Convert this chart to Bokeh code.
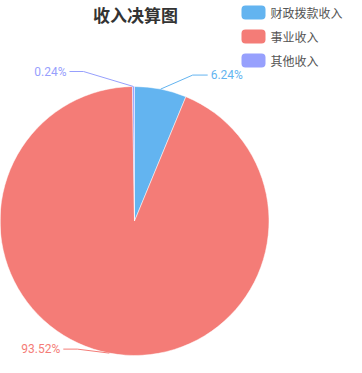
import math
from bokeh.plotting import figure
from bokeh.models import Range1d
from bokeh.core.properties import value
from bokeh.embed import file_html
from bokeh.resources import INLINE

# ---- data ----
title_text = "收入决算图"
categories = ["财政拨款收入", "事业收入", "其他收入"]
percents = [6.24, 93.52, 0.24]
colors = ["#63b4f0", "#f47c77", "#97a0fd"]

# ---- layout (figure pixel coordinates, y downward) ----
W, H = 346, 357
REF_H = 373
cx, cy, R = 134.0, 220.5, 134.5

def Y(py):
    return REF_H - py

p = figure(width=W, height=H, output_backend="svg", toolbar_location=None,
           x_range=Range1d(0, W), y_range=Range1d(REF_H - H, REF_H),
           min_border=0)
p.axis.visible = False
p.grid.visible = False
p.outline_line_color = None
p.background_fill_color = "white"
p.border_fill_color = "white"

# ---- pie ----
total = sum(percents)
start = math.pi / 2
starts, ends, mids = [], [], []
for v in percents:
    sweep = 2 * math.pi * v / total
    starts.append(start)
    ends.append(start - sweep)
    mids.append(start - sweep / 2)
    start -= sweep

p.wedge(x=[cx] * len(percents), y=[Y(cy)] * len(percents), radius=R,
        start_angle=starts, end_angle=ends, direction="clock",
        fill_color=colors, line_color="white", line_width=0.5)

# ---- labels with leader lines ----
elbow = [(32, -14), (-32, -4), (-50, -15)]
run = [15, -14, -14]
for i, v in enumerate(percents):
    ex = cx + R * math.cos(mids[i])
    ey = cy - R * math.sin(mids[i])
    bx, by = ex + elbow[i][0], ey + elbow[i][1]
    tx = bx + run[i]
    p.line(x=[ex, bx, tx], y=[Y(ey), Y(by), Y(by)], line_color=colors[i], line_width=1)
    align = "left" if run[i] > 0 else "right"
    off = 3 if run[i] > 0 else -3
    p.text(x=[tx + off], y=[Y(by)], text=["%.2f%%" % v], text_align=align,
           text_baseline="middle", text_color=colors[i], text_font_size="12px",
           text_font=value("Roboto"))

# ---- title ----
p.text(x=[135], y=[Y(14)], text=[title_text], text_align="center",
       text_baseline="middle", text_font=value("Noto Sans CJK SC"),
       text_font_style="bold", text_font_size="17px", text_color="#333333")

# ---- legend ----
lx, ly0, gap = 241, 5, 24
for i, c in enumerate(categories):
    top = ly0 + i * gap
    p.quad(left=[lx], right=[lx + 24], top=[Y(top)], bottom=[Y(top + 14)],
           fill_color=colors[i], line_color=None, border_radius=4)
    p.text(x=[lx + 29], y=[Y(top + 7)], text=[c], text_align="left",
           text_baseline="middle", text_font=value("Noto Sans CJK SC"),
           text_font_size="12px", text_color="#555555")

open("out.html", "w").write(file_html(p, INLINE))
